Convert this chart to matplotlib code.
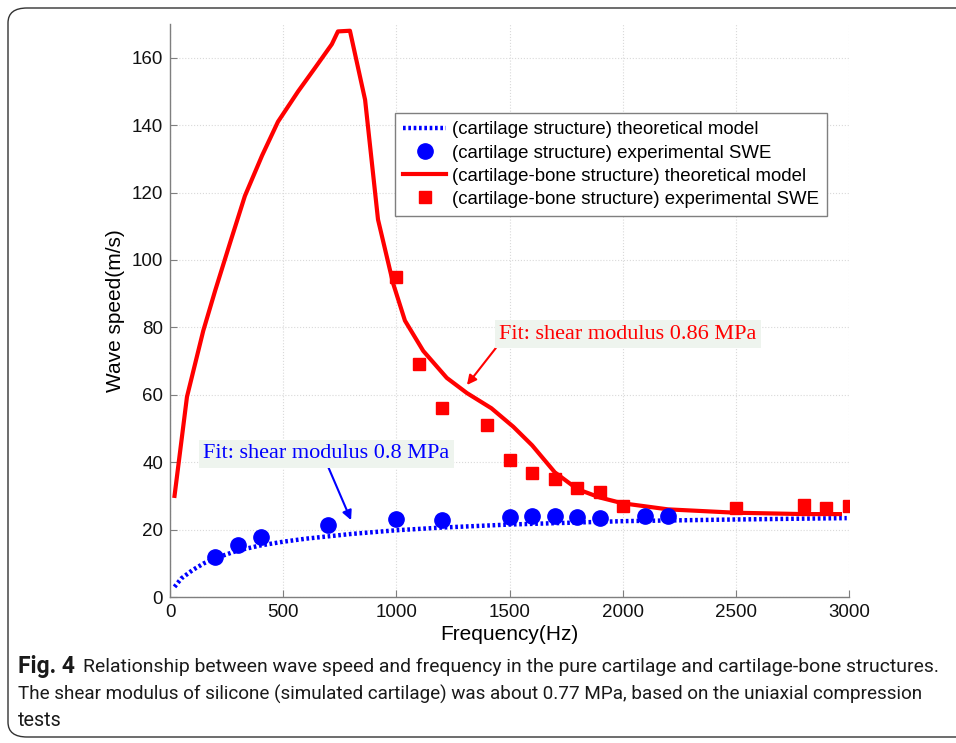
import matplotlib
matplotlib.use("Agg")
import matplotlib.pyplot as plt
from matplotlib.patches import FancyBboxPatch

# ---- data ----
red_curve_f = [20, 75, 147, 200, 265, 331, 407, 477, 566, 641, 715, 742, 795, 862, 919, 986,
               1038, 1119, 1223, 1312, 1420, 1517, 1600, 1700, 1800, 1900, 2000,
               2200, 2500, 2800, 2960]
red_curve_v = [30, 59.4, 79, 91, 105, 119, 131, 141, 150, 157, 164, 167.8, 168, 147.5, 112, 93,
               82, 73, 65, 60.5, 56, 50.5, 45, 37, 32, 29.5, 27.8,
               26, 25, 24.6, 24.6]

blue_curve_f = [20, 50, 100, 150, 200, 300, 400, 500, 600, 700, 800, 1000, 1200,
                1500, 2000, 2500, 2990]
blue_curve_v = [3, 5.5, 8, 10, 11.5, 13.8, 15.3, 16.4, 17.3, 18, 18.7, 19.8, 20.6,
                21.5, 22.5, 23, 23.4]

blue_pts_f = [200, 300, 400, 700, 1000, 1200, 1500, 1600, 1700, 1800, 1900, 2100, 2200]
blue_pts_v = [11.9, 15.4, 17.8, 21.4, 23.1, 22.9, 23.7, 24.0, 24.0, 23.7, 23.4, 24.0, 24.0]

red_pts_f = [1000, 1100, 1200, 1400, 1500, 1600, 1700, 1800, 1900, 2000, 2500, 2800, 2900, 3000]
red_pts_v = [95, 69, 56, 51, 40.7, 36.8, 35, 32.3, 31.2, 27, 26.4, 27.3, 26.4, 27]

labels = ["(cartilage structure) theoretical model",
          "(cartilage structure) experimental SWE",
          "(cartilage-bone structure) theoretical model",
          "(cartilage-bone structure) experimental SWE"]

xticks = [0, 500, 1000, 1500, 2000, 2500, 3000]
yticks = [0, 20, 40, 60, 80, 100, 120, 140, 160]

caption_bold = "Fig. 4"
caption_1 = "Relationship between wave speed and frequency in the pure cartilage and cartilage-bone structures."
caption_2 = "The shear modulus of silicone (simulated cartilage) was about 0.77 MPa, based on the uniaxial compression"
caption_3 = "tests"

plt.rcParams['font.family'] = ['Liberation Sans', 'DejaVu Sans']

W, H = 956, 743
fig = plt.figure(figsize=(W/100, H/100), dpi=100)
ax = fig.add_axes([170/W, 1-597/H, (849-170)/W, (597-24)/H])

ax.plot(blue_curve_f, blue_curve_v, color='#0000ff', lw=3.2, linestyle=(0, (0.6, 0.6)),
        label=labels[0], zorder=3)
ax.plot(blue_pts_f, blue_pts_v, 'o', color='#0000ff', ms=11, label=labels[1], zorder=4)
ax.plot(red_curve_f, red_curve_v, color='#ff0000', lw=3, label=labels[2], zorder=3)
ax.plot(red_pts_f, red_pts_v, 's', color='#ff0000', ms=9, label=labels[3], zorder=4)

ax.set_xlim(0, 3000)
ax.set_ylim(0, 170)
ax.set_xticks(xticks)
ax.set_yticks(yticks)
ax.grid(True, color='#d9d9d9', linestyle=':', linewidth=0.8)
ax.set_axisbelow(True)
for s in ['top', 'right']:
    ax.spines[s].set_visible(False)
for s in ['left', 'bottom']:
    ax.spines[s].set_color('#7f7f7f')
    ax.spines[s].set_linewidth(1.0)
ax.tick_params(direction='in', length=5, color='#7f7f7f', labelsize=13.5, labelcolor='#111111', pad=5)
ax.set_xlabel("Frequency(Hz)", fontsize=15, labelpad=3)
ax.set_ylabel("Wave speed(m/s)", fontsize=15, labelpad=5)

leg = ax.legend(loc='upper left', bbox_to_anchor=((395-170)/679, (597-113)/573),
                fontsize=13.4, frameon=True, fancybox=False, edgecolor='#7f7f7f',
                framealpha=1, borderpad=0.45, labelspacing=0.33, handlelength=2.3,
                handletextpad=0.3, borderaxespad=0)
leg.get_frame().set_linewidth(1.0)

bbox_style = dict(boxstyle='square,pad=0.2', fc='#eef4ee', ec='none')
ax.annotate("Fit: shear modulus 0.86 MPa", xy=(1312, 62.9), xytext=(1455, 78),
            fontsize=16, color='#ff0000', family=['Liberation Serif', 'DejaVu Serif'],
            va='center', ha='left', bbox=bbox_style,
            arrowprops=dict(arrowstyle='-|>', color='#ff0000', lw=1.5,
                            shrinkA=0, shrinkB=0, mutation_scale=14,
                            relpos=(0, 0)), zorder=5)
ax.annotate("Fit: shear modulus 0.8 MPa", xy=(800, 22.8), xytext=(148, 42.5),
            fontsize=16, color='#0000ff', family=['Liberation Serif', 'DejaVu Serif'],
            va='center', ha='left', bbox=bbox_style,
            arrowprops=dict(arrowstyle='-|>', color='#0000ff', lw=1.5,
                            shrinkA=0, shrinkB=0, mutation_scale=14,
                            relpos=(0.5, 0)), zorder=5)

# figure frame
frame = FancyBboxPatch((8/W, 6/H), 1.2, 1 - 14/H, transform=fig.transFigure,
                       boxstyle='round,pad=0,rounding_size=0.02', fc='none',
                       ec='#333333', lw=1.0, clip_on=False)
fig.patches.append(frame)

# caption, fitted to the reference's line widths
cap_family = ['Roboto', 'DejaVu Sans']
fig.canvas.draw()
r = fig.canvas.get_renderer()

def fit_text(x, y, s, target_w, weight='normal', fs0=14):
    t = fig.text(x/W, 1-y/H, s, fontsize=fs0, family=cap_family, fontweight=weight,
                 va='center', ha='left', color='#1a1a1a')
    w = t.get_window_extent(r).width
    t.set_fontsize(fs0 * target_w / w)
    return t

fit_text(18, 667, caption_bold, 75-18, weight='bold')
fit_text(83, 667, caption_1, 946-83)
fit_text(18, 694, caption_2, 932-18)
fit_text(18, 721, caption_3, 62-18)

fig.savefig("out.png", dpi=100)
